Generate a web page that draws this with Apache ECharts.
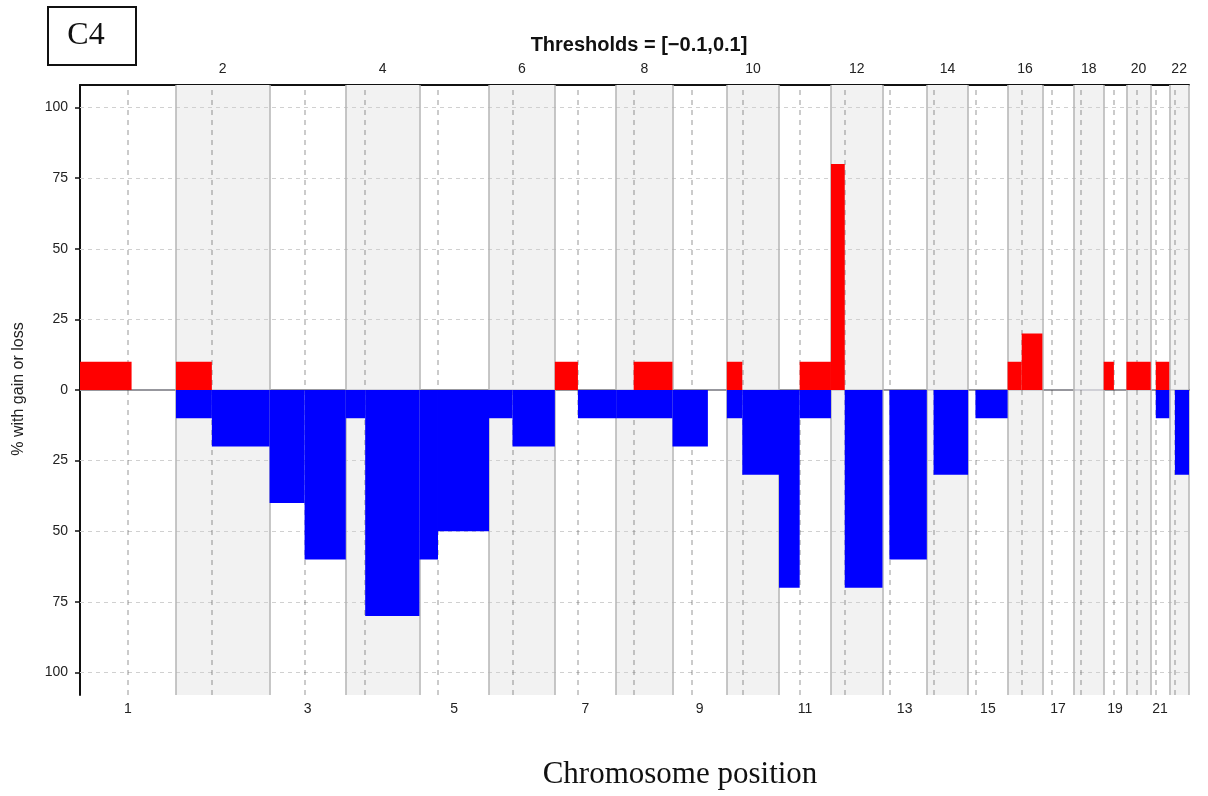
<!DOCTYPE html>
<html>
<head>
<meta charset="utf-8">
<script src="https://cdn.jsdelivr.net/npm/echarts@6/dist/echarts.min.js"></script>
<style>html,body{margin:0;padding:0;background:#fff}#c{width:1208px;height:796px}</style>
</head>
<body>
<div id="c"></div>
<script>
// ---- data ----
var chromNames = ['1','2','3','4','5','6','7','8','9','10','11','12','13','14','15','16','17','18','19','20','21','22'];
// chromosome lengths (Mb, hg19)
var chromLengths = [249.25,243.20,198.02,191.15,180.92,171.12,159.14,146.36,141.21,135.53,135.01,133.85,115.17,107.35,102.53,90.35,81.20,78.08,59.13,63.03,48.13,51.30];
// centromere positions (Mb)
var centromeres = [125.0,93.3,91.0,50.4,48.4,61.0,59.9,45.6,49.0,40.2,53.7,35.8,17.9,17.6,19.0,36.6,24.0,17.2,26.5,27.5,13.2,14.7];

// gains (% of samples), segment positions within chromosome in Mb
var gainChrom = [1, 2, 7, 8, 10, 11, 12, 16, 16, 19, 20, 21];
var gainStart = [0, 0, 0, 45.6, 0, 53.7, 0, 0, 36.6, 0, 0, 13.2];
var gainEnd   = [134, 93.3, 59.9, 146.36, 40.2, 135.01, 35.8, 36.6, 90.35, 26.5, 63.03, 48.13];
var gainPct   = [10, 10, 10, 10, 10, 10, 80, 10, 20, 10, 10, 10];

// losses (% of samples)
var lossChrom = [2, 2, 3, 3, 4, 4, 5, 5, 6, 6, 7, 8, 9, 10, 10, 11, 11, 12, 13, 14, 15, 21, 22];
var lossStart = [0, 93.3, 0, 91.0, 0, 50.4, 0, 48.4, 0, 61.0, 59.9, 0, 0, 0, 40.2, 0, 53.7, 35.8, 17.9, 17.6, 19.0, 13.2, 14.7];
var lossEnd   = [93.3, 243.2, 91.0, 198.02, 50.4, 191.15, 48.4, 180.92, 61.0, 171.12, 159.14, 146.36, 92, 40.2, 135.53, 53.7, 135.01, 133.85, 115.17, 107.35, 102.53, 48.13, 51.30];
var lossPct   = [10, 20, 40, 60, 10, 80, 60, 50, 10, 20, 10, 10, 20, 10, 30, 70, 10, 70, 60, 30, 10, 10, 30];

var yTicks = [-100, -75, -50, -25, 0, 25, 50, 75, 100];

// ---- derived ----
var offsets = [], acc = 0;
chromLengths.forEach(function (l) { offsets.push(acc); acc += l; });
var total = acc;
var mids = chromLengths.map(function (l, i) { return offsets[i] + l / 2; });
var oddMids = mids.filter(function (m, i) { return i % 2 === 0; });
var evenMids = mids.filter(function (m, i) { return i % 2 === 1; });
function labelFor(v) {
  for (var i = 0; i < mids.length; i++) if (Math.abs(mids[i] - v) < 0.01) return chromNames[i];
  return '';
}
var bars = [];
gainChrom.forEach(function (c, i) {
  var o = offsets[c - 1];
  bars.push({ value: [o + gainStart[i], o + gainEnd[i], gainPct[i]], itemStyle: { color: '#ff0000' } });
});
lossChrom.forEach(function (c, i) {
  var o = offsets[c - 1];
  bars.push({ value: [o + lossStart[i], o + lossEnd[i], -lossPct[i]], itemStyle: { color: '#0000ff' } });
});
var shade = [];
chromLengths.forEach(function (l, i) {
  if (i % 2 === 1) shade.push([{ xAxis: offsets[i] }, { xAxis: offsets[i] + l }]);
});
var boundaries = [];
for (var i = 1; i <= chromLengths.length; i++) boundaries.push({ xAxis: i < chromLengths.length ? offsets[i] : total });
var hLines = yTicks.filter(function (v) { return v !== 0; }).map(function (v) { return { yAxis: v }; });
var cenLines = centromeres.map(function (c, i) { return { xAxis: offsets[i] + c }; });

var sans = '"Liberation Sans", Arial, Helvetica, sans-serif';
var serif = '"Liberation Serif", "Times New Roman", serif';

var chart = echarts.init(document.getElementById('c'));
chart.setOption({
  animation: false,
  backgroundColor: '#fff',
  title: {
    text: 'Thresholds = [\u22120.1,0.1]',
    left: 634, top: 30, textAlign: 'center',
    textStyle: { fontFamily: sans, fontSize: 20, fontWeight: 'bold', color: '#111' }
  },
  grid: { left: 80, right: 19, top: 85, bottom: 101 },
  xAxis: [
    {
      type: 'value', min: 0, max: total, position: 'bottom',
      axisLine: { show: true, lineStyle: { color: '#111', width: 2 } },
      axisTick: { show: false },
      splitLine: { show: false },
      axisLabel: { customValues: oddMids, formatter: labelFor, margin: 7, fontFamily: sans, fontSize: 14, color: '#222' }
    },
    {
      type: 'value', min: 0, max: total, position: 'top',
      axisLine: { show: true, lineStyle: { color: '#111', width: 2 } },
      axisTick: { show: false },
      splitLine: { show: false },
      axisLabel: { customValues: evenMids, formatter: labelFor, margin: 9, fontFamily: sans, fontSize: 14, color: '#222' }
    }
  ],
  yAxis: {
    type: 'value', min: -108, max: 108,
    axisLine: { show: true, lineStyle: { color: '#111', width: 2 } },
    axisTick: { show: true, customValues: yTicks, length: 5, lineStyle: { color: '#111', width: 1.5 } },
    splitLine: { show: false },
    axisLabel: { customValues: yTicks, formatter: function (v) { return String(Math.abs(v)); }, margin: 12, fontFamily: sans, fontSize: 14, color: '#222' }
  },
  graphic: [
    { type: 'rect', left: 47, top: 6, shape: { width: 88, height: 58 }, style: { fill: '#fff', stroke: '#111', lineWidth: 2 } },
    { type: 'text', x: 86, y: 36, style: { text: 'C4', font: '32px ' + serif, fill: '#111', align: 'center', verticalAlign: 'middle' } },
    { type: 'text', x: 680, y: 775, style: { text: 'Chromosome position', font: '31px ' + serif, fill: '#111', align: 'center', verticalAlign: 'middle' } },
    { type: 'text', x: 19, y: 389, rotation: Math.PI / 2, style: { text: '% with gain or loss', font: '16px ' + sans, fill: '#222', align: 'center', verticalAlign: 'middle' } }
  ],
  series: [
    {
      type: 'line', data: [], z: 1, silent: true,
      markArea: { silent: true, itemStyle: { color: '#f2f2f2' }, data: shade },
      markLine: {
        silent: true, symbol: ['none', 'none'], label: { show: false },
        data: hLines.map(function (d) { return Object.assign({ lineStyle: { color: '#d0d0d0', type: [4, 4], width: 1 } }, d); })
          .concat([{ yAxis: 0, lineStyle: { color: '#c4c4cc', type: 'solid', width: 1.5 } }])
      }
    },
    {
      type: 'custom', z: 5, silent: true,
      encode: { x: [0, 1], y: 2 },
      data: bars,
      renderItem: function (params, api) {
        var p1 = api.coord([api.value(0), api.value(2)]);
        var p2 = api.coord([api.value(1), 0]);
        return {
          type: 'rect',
          shape: { x: p1[0], y: Math.min(p1[1], p2[1]), width: p2[0] - p1[0], height: Math.abs(p2[1] - p1[1]) },
          style: { fill: api.visual('color') }
        };
      }
    },
    {
      type: 'line', data: [], z: 10, silent: true,
      markLine: {
        silent: true, symbol: ['none', 'none'], label: { show: false },
        data: cenLines.map(function (d) { return Object.assign({ lineStyle: { color: 'rgba(60,60,60,0.35)', type: [5, 5], width: 1.5 } }, d); })
          .concat(boundaries.map(function (d) { return Object.assign({ lineStyle: { color: '#b4b4b4', type: 'solid', width: 1.5 } }, d); }))
      }
    }
  ]
});
</script>
</body>
</html>
